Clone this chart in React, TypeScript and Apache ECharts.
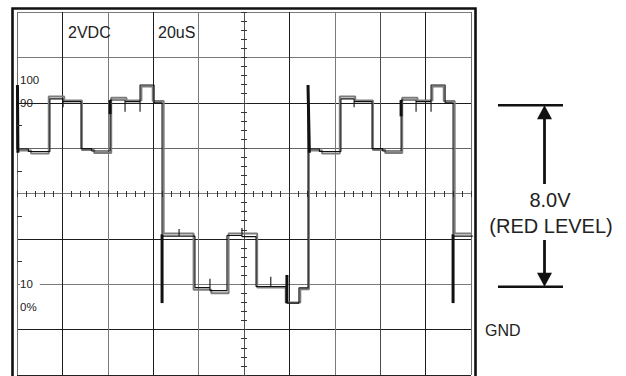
import React, { useEffect, useRef } from "react";
import * as echarts from "echarts";

// Scope settings: 20 µs/div (10 div), 2 V/div (8 div)
const TIME_MAX = 200;
const VOLT_MAX = 16;
const TIME_DIV = 20;
const VOLT_DIV = 2;
const TIME_MINOR = 4;
const VOLT_MINOR = 0.4;

const LEVEL_90 = 12;
const LEVEL_10 = 4;

const levelTicks = [3, 4, 12, 13];
const levelLabels = ["0%", "10", "90", "100"];
const halfDivTicks = [5, 7, 9, 11];

const xGridColors = ["#707070", "#1c1c1c", "#7a7a7a", "#1c1c1c", "#7a7a7a", "#555555", "#1c1c1c", "#7a7a7a", "#4a4a4a", "#1c1c1c", "#707070"];
const yGridColors = ["#222222", "#1c1c1c", "#7a7a7a", "#1c1c1c", "#7a7a7a", "#666666", "#1c1c1c", "#7a7a7a", "#7a7a7a"];

// Thin black trace [µs, V]
const traceBlack: [number, number][] = [
  [0, 12.78], [0, 9.96], [5.0, 9.96], [5.0, 9.85], [14.5, 9.85], [14.5, 12.17], [20.3, 12.17], [20.3, 11.8], [20.3, 12.05],
  [28.2, 12.05], [28.2, 9.98], [32.9, 9.98], [32.9, 9.87], [41.0, 9.87], [41.0, 12.12], [47.6, 12.12], [47.6, 11.6],
  [47.6, 12.05], [54.2, 12.05], [54.2, 11.6], [54.2, 12.78], [60.4, 12.78], [60.4, 12.0], [63.9, 12.0], [63.9, 3.17],
  [63.9, 6.12], [71.4, 6.12], [71.4, 6.44], [71.4, 6.12], [78.4, 6.12], [78.4, 3.85], [85.0, 3.85], [85.0, 4.24],
  [85.0, 3.72], [92.5, 3.72], [92.5, 6.15], [99.1, 6.15], [99.1, 6.48], [99.1, 6.1], [105.3, 6.1], [105.3, 4.52],
  [105.3, 3.9], [111.8, 3.9], [111.8, 4.33], [111.8, 3.9], [118.9, 3.9], [118.9, 4.41], [118.9, 3.17], [124.2, 3.17],
  [124.2, 3.84], [128.2, 3.84],
  [128.2, 12.78], [128.2, 9.96], [133.2, 9.96], [133.2, 9.85], [142.7, 9.85], [142.7, 12.17], [148.5, 12.17], [148.5, 11.8],
  [148.5, 12.05], [156.4, 12.05], [156.4, 9.98], [161.1, 9.98], [161.1, 9.87], [169.2, 9.87], [169.2, 12.12], [175.8, 12.12],
  [175.8, 11.6], [175.8, 12.05], [182.4, 12.05], [182.4, 11.6], [182.4, 12.78], [188.6, 12.78], [188.6, 12.0], [192.1, 12.0],
  [192.1, 3.17], [192.1, 6.12], [200.8, 6.12],
];

// Grey trace (second sweep) [µs, V]
const traceGray: [number, number][] = [
  [0, 9.9], [6.2, 9.9], [6.2, 9.76], [14.0, 9.76], [14.0, 12.28], [20.8, 12.28], [20.8, 12.1], [28.6, 12.1],
  [28.6, 9.92], [34.0, 9.92], [34.0, 9.78], [41.5, 9.78], [41.5, 12.22], [48.2, 12.22], [48.2, 12.1], [54.8, 12.1],
  [54.8, 12.72], [59.8, 12.72], [59.8, 12.08], [64.6, 12.08], [64.6, 6.24], [77.8, 6.24], [77.8, 3.76], [85.6, 3.76],
  [85.6, 3.6], [93.2, 3.6], [93.2, 6.24], [105.8, 6.24], [105.8, 3.86], [118.4, 3.86], [118.4, 3.2], [124.8, 3.2],
  [124.8, 3.78], [128.6, 3.78], [128.6, 9.9],
  [134.4, 9.9], [134.4, 9.76], [142.2, 9.76], [142.2, 12.28], [149.0, 12.28], [149.0, 12.1], [156.8, 12.1],
  [156.8, 9.92], [162.2, 9.92], [162.2, 9.78], [169.7, 9.78], [169.7, 12.22], [176.4, 12.22], [176.4, 12.1], [183.0, 12.1],
  [183.0, 12.72], [188.0, 12.72], [188.0, 12.08], [192.8, 12.08], [192.8, 6.24], [200.8, 6.24],
];

// Bright (heavy) edges [µs, V]
const edgeSegments: [number, number][][] = [
  [[0.2, 12.78], [0.4, 9.8]],
  [[41.0, 12.12], [41.0, 11.5]],
  [[63.9, 6.2], [63.9, 3.17]],
  [[118.9, 4.41], [118.9, 3.17]],
  [[128.2, 12.78], [128.8, 9.8]],
  [[169.2, 12.12], [169.2, 11.4]],
  [[192.1, 6.2], [192.1, 3.17]],
];

const FONT = "'Liberation Sans', Arial, sans-serif";

export default function App() {
  const ref = useRef<HTMLDivElement>(null);
  useEffect(() => {
    if (!ref.current) return;
    const chart = echarts.init(ref.current, null, { renderer: "svg" });
    const hidden = { axisLine: { show: false }, axisLabel: { show: false }, splitLine: { show: false } };
    chart.setOption({
      animation: false,
      backgroundColor: "#ffffff",
      grid: { left: 17, top: 12, width: 454, height: 363 },
      xAxis: [
        {
          type: "value", min: 0, max: TIME_MAX, interval: TIME_DIV,
          axisLine: { show: false }, axisTick: { show: false }, axisLabel: { show: false },
          splitLine: { show: true, lineStyle: { color: xGridColors, width: 1 } },
        },
        {
          type: "value", min: 0, max: TIME_MAX, interval: TIME_MINOR, position: "bottom", offset: -178,
          ...hidden,
          axisTick: { show: true, inside: true, length: 6, lineStyle: { color: "#333", width: 1 } },
        },
      ],
      yAxis: [
        {
          type: "value", min: 0, max: VOLT_MAX, interval: VOLT_DIV,
          axisLine: { show: false }, axisTick: { show: false }, axisLabel: { show: false },
          splitLine: { show: true, lineStyle: { color: yGridColors, width: 1 } },
        },
        {
          type: "value", min: 0, max: VOLT_MAX, interval: VOLT_MINOR, position: "left", offset: -224,
          ...hidden,
          axisTick: { show: true, inside: true, length: 6, lineStyle: { color: "#333", width: 1 } },
        },
        {
          type: "value", min: 0, max: VOLT_MAX, interval: VOLT_DIV, position: "left", offset: 0, z: 5,
          axisLine: { show: false },
          splitLine: { show: false },
          axisTick: { show: true, inside: true, length: 5, customValues: halfDivTicks, lineStyle: { color: "#333", width: 1 } },
          axisLabel: {
            show: true, inside: true, margin: 3, customValues: levelTicks,
            color: "#222", fontSize: 11.5, fontFamily: FONT,
            formatter: (v: number) => {
              const i = levelTicks.indexOf(v);
              const t = i >= 0 ? levelLabels[i] : "";
              return v === LEVEL_10 ? `{bg|${t}}` : `{n|${t}}`;
            },
            rich: {
              bg: { backgroundColor: "#ffffff", padding: [1, 7, 1, 0], fontSize: 11.5, color: "#222", fontFamily: FONT },
              n: { fontSize: 11.5, color: "#222", fontFamily: FONT },
            },
          },
        },
      ],
      series: [
        {
          type: "line", data: traceGray, symbol: "none", clip: false, z: 2,
          lineStyle: { color: "#7c7c7c", width: 2 },
        },
        {
          type: "line", data: traceBlack, symbol: "none", clip: false, z: 3,
          lineStyle: { color: "#111111", width: 1.1 },
        },
        ...edgeSegments.map((seg) => ({
          type: "line", data: seg, symbol: "none", clip: false, z: 4,
          lineStyle: { color: "#111111", width: 3 },
        })),
      ],
    });

    const py = (v: number) => chart.convertToPixel({ yAxisIndex: 0 }, v) as number;
    const yTop = py(LEVEL_90) + 2.5;
    const yBot = py(LEVEL_10) + 2.5;
    const ax = 544.5;
    const txt = "#222";
    chart.setOption({
      graphic: [
        { type: "polyline", shape: { points: [[12.5, 380], [12.5, 8.5], [475.5, 8.5], [475.5, 380]] }, style: { stroke: "#111", lineWidth: 2.6, fill: "none" }, z: 10 },
        { type: "text", x: 68, y: 32, style: { text: "2VDC", fontSize: 16, fontFamily: FONT, fill: txt, verticalAlign: "middle" }, z: 10 },
        { type: "text", x: 158, y: 32, style: { text: "20uS", fontSize: 16, fontFamily: FONT, fill: txt, verticalAlign: "middle" }, z: 10 },
        { type: "line", shape: { x1: 498, y1: yTop, x2: 563, y2: yTop }, style: { stroke: "#111", lineWidth: 2.5 }, z: 10 },
        { type: "line", shape: { x1: 498, y1: yBot, x2: 563, y2: yBot }, style: { stroke: "#111", lineWidth: 2.5 }, z: 10 },
        { type: "line", shape: { x1: ax, y1: yTop + 12, x2: ax, y2: 184 }, style: { stroke: "#111", lineWidth: 2.8 }, z: 10 },
        { type: "polygon", shape: { points: [[ax, yTop], [ax - 7.5, yTop + 14], [ax + 7.5, yTop + 14]] }, style: { fill: "#111" }, z: 10 },
        { type: "line", shape: { x1: ax, y1: 240, x2: ax, y2: yBot - 12 }, style: { stroke: "#111", lineWidth: 2.8 }, z: 10 },
        { type: "polygon", shape: { points: [[ax, yBot], [ax - 7.5, yBot - 14], [ax + 7.5, yBot - 14]] }, style: { fill: "#111" }, z: 10 },
        { type: "text", x: 550, y: 200, style: { text: "8.0V", fontSize: 20, fontFamily: FONT, fill: txt, align: "center", verticalAlign: "middle" }, z: 10 },
        { type: "text", x: 551, y: 226, style: { text: "(RED LEVEL)", fontSize: 20, fontFamily: FONT, fill: txt, align: "center", verticalAlign: "middle" }, z: 10 },
        { type: "text", x: 485, y: 330, style: { text: "GND", fontSize: 16, fontFamily: FONT, fill: txt, verticalAlign: "middle" }, z: 10 },
      ],
    });
    return () => chart.dispose();
  }, []);
  return (
    <div
      ref={ref}
      style={{ position: "fixed", left: 0, top: 0, width: 626, height: 376, background: "#fff" }}
    />
  );
}
